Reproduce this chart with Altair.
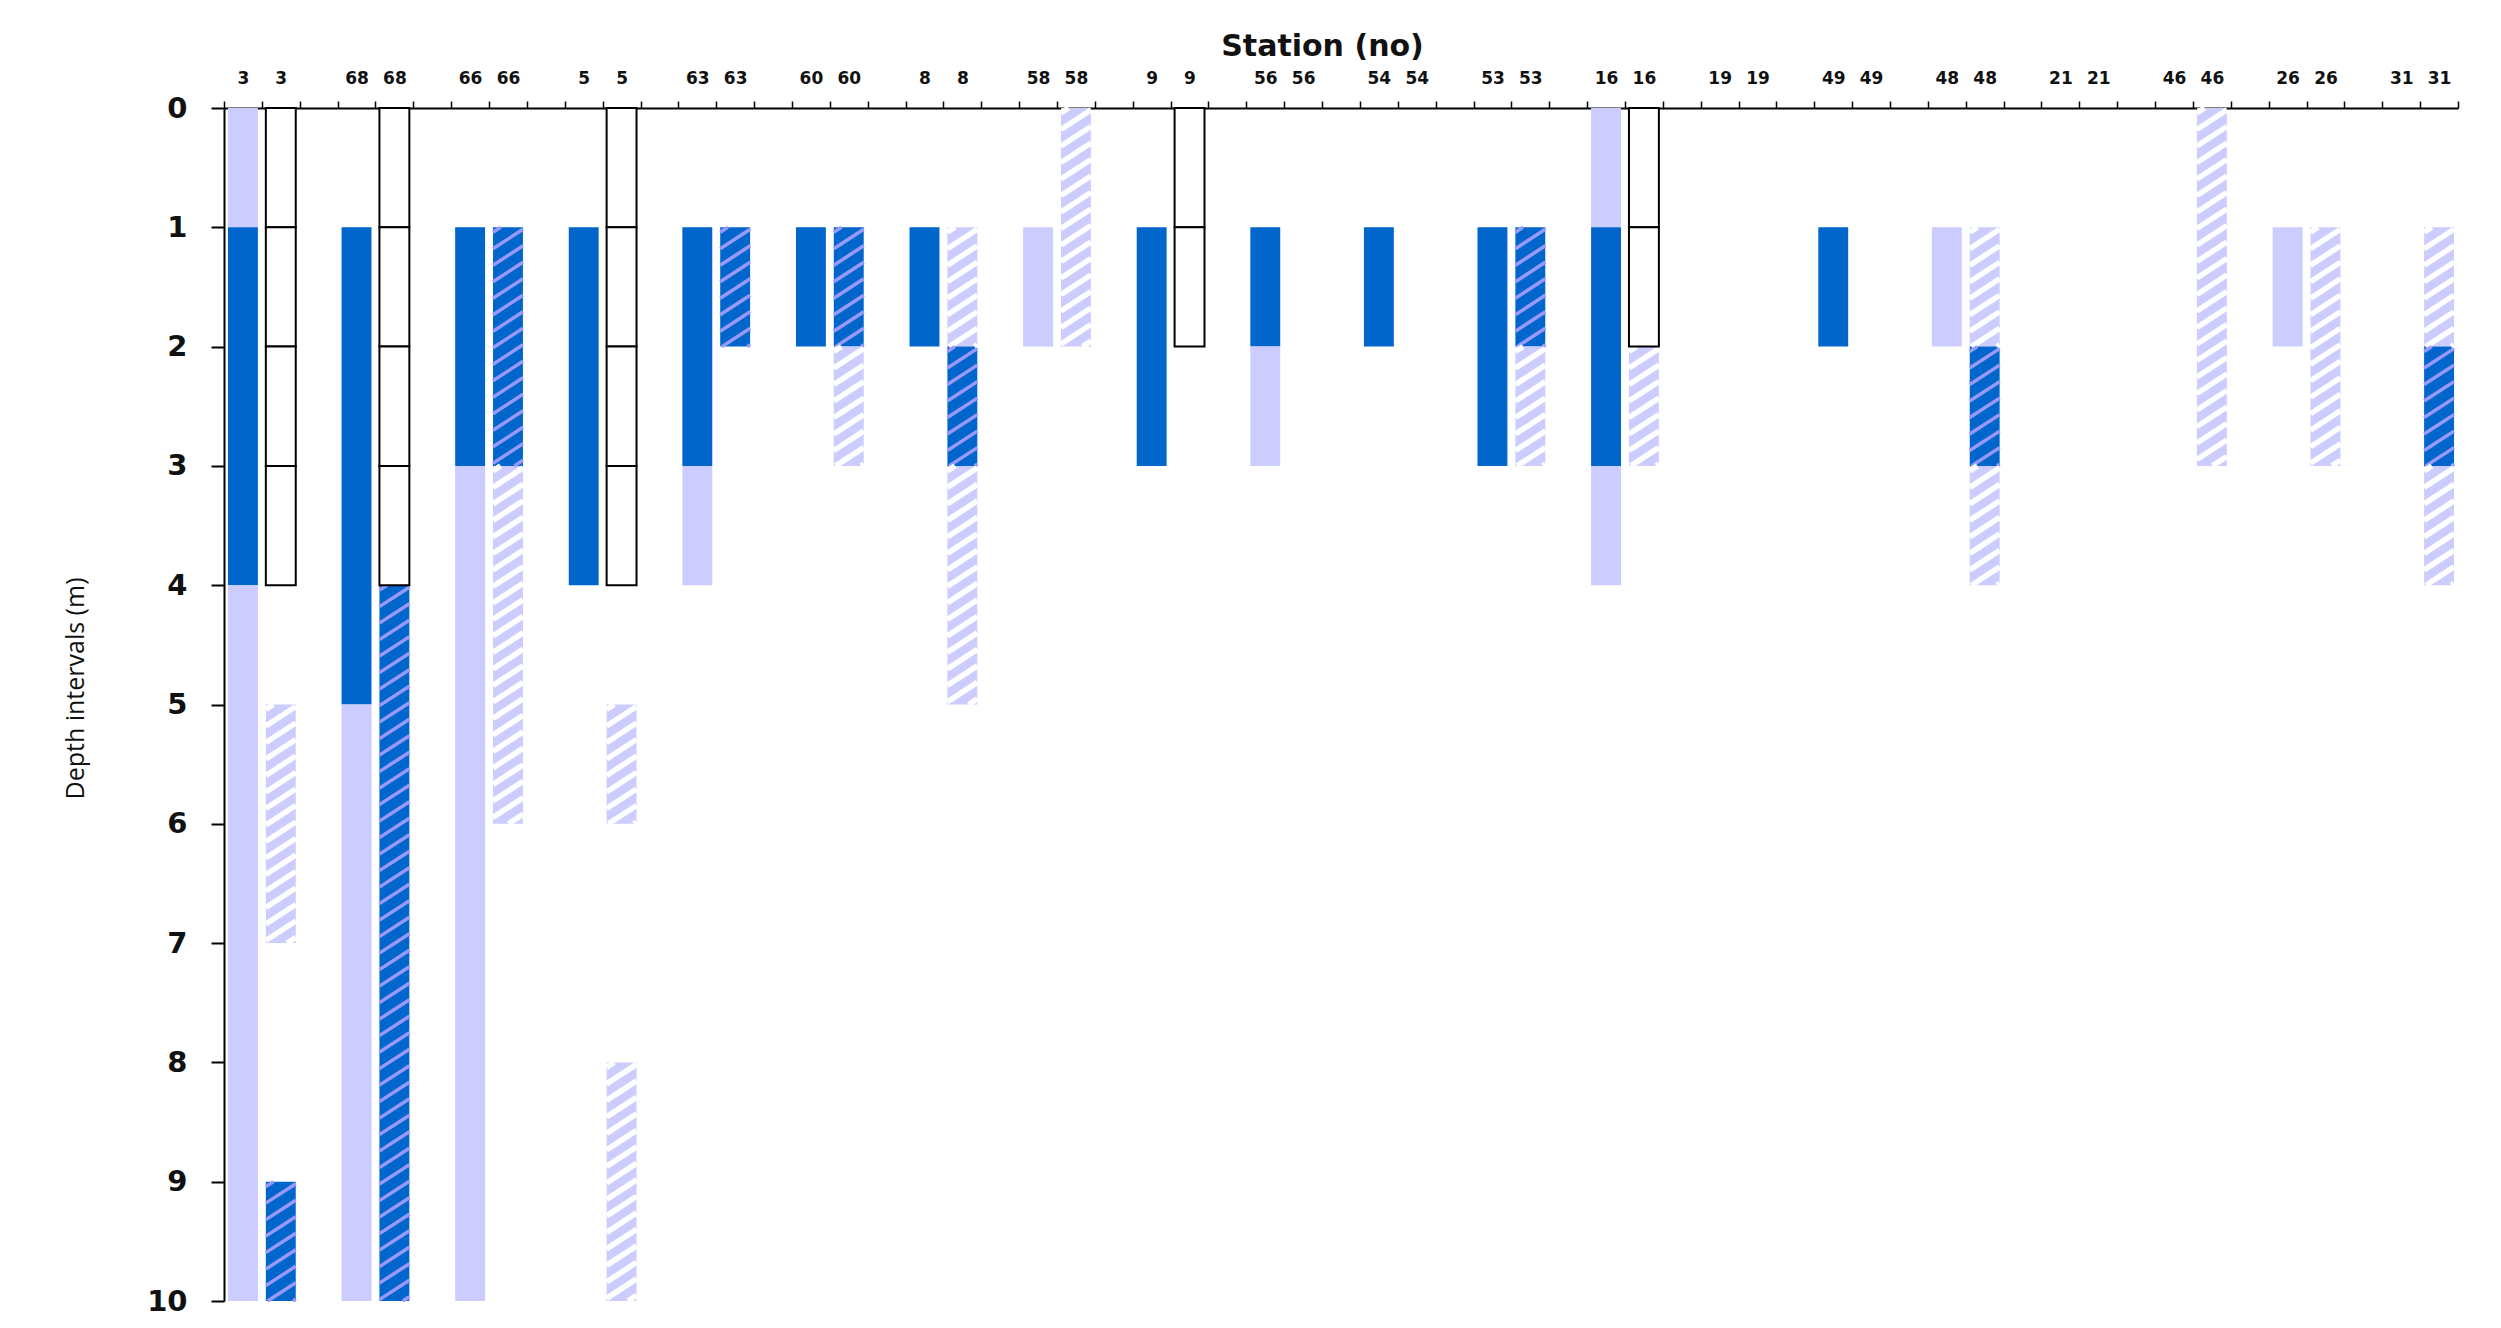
import json
import altair as alt
import pandas as pd

# ---------------- data ----------------
stations = ["3", "68", "66", "5", "63", "60", "8", "58", "9", "56",
            "54", "53", "16", "19", "49", "48", "21", "46", "26", "31"]

# one code per 1-m depth interval (0-1, 1-2, ..., 9-10)
# L = light solid, D = dark solid, h = light hatched, H = dark hatched,
# E = empty outlined box, . = nothing
left_bars = ["LDDDLLLLLL", ".DDDDLLLLL", ".DDLLLLLLL", ".DDD......", ".DDL......",
             ".D........", ".D........", ".L........", ".DD.......", ".DL.......",
             ".D........", ".DD.......", "LDDL......", "..........", ".D........",
             ".L........", "..........", "..........", ".L........", ".........."]
right_bars = ["EEEE.hh..H", "EEEEHHHHHH", ".HHhhh....", "EEEE.h..hh", ".H........",
              ".Hh.......", ".hHhh.....", "hh........", "EE........", "..........",
              "..........", ".Hh.......", "EEh.......", "..........", "..........",
              ".hHh......", "..........", "hhh.......", ".hh.......", ".hHh......"]

depth_ticks = list(range(0, 11))

style_codes = ["L", "D", "h", "H", "hs", "Hs"]
style_colors = ["#CCCCFF", "#0066CC", "#CCCCFF", "#0066CC", "#FFFFFF", "#9999FF"]

# ---------------- layout ----------------
W, H = 2234, 1193
NSLOT = 3 * len(stations) - 1
HALF = 0.395

slot_labels = []
for i in range(NSLOT):
    slot_labels.append(stations[i // 3] if i % 3 < 2 else "")

seg_rows, box_rows = [], []
for k in range(len(stations)):
    for side, codes in ((0, left_bars[k]), (1, right_bars[k])):
        slot = 3 * k + side
        d = 0
        while d < 10:
            c = codes[d]
            if c == ".":
                d += 1
                continue
            if c == "E":
                box_rows.append(dict(x0=slot - HALF, x1=slot + HALF, top=d, bot=d + 1))
                d += 1
                continue
            e = d
            while e < 10 and codes[e] == c:
                e += 1
            seg_rows.append(dict(x0=slot - HALF, x1=slot + HALF, top=d, bot=e, code=c))
            d = e

# hatch stripes ("/" direction) derived from hatched segments
sx = W / NSLOT
sy = H / 10.0
slope = 0.65
period_px = 16.5
kk = slope * sx / sy
pp = period_px / sy
hatch_rows = []
for s in seg_rows:
    if s["code"] not in ("h", "H"):
        continue
    xl, xr, a, b = s["x0"], s["x1"], s["top"], s["bot"]
    c = a + pp * 0.3
    while c < b + kk * (xr - xl):
        xs = max(xl, xl + (c - b) / kk)
        xe = min(xr, xl + (c - a) / kk)
        if xe - xs > 1e-6:
            hatch_rows.append(dict(xa=xs, xb=xe,
                                   ya=c - kk * (xs - xl), yb=c - kk * (xe - xl),
                                   code=s["code"] + "s"))
        c += pp

segs = pd.DataFrame(seg_rows)
boxes = pd.DataFrame(box_rows)
hatch = pd.DataFrame(hatch_rows)

label_expr = "datum.value % 1 != 0 ? '' : " + json.dumps(slot_labels) + "[datum.value]"
x_values = [i - 0.5 for i in range(NSLOT + 1)] + list(range(NSLOT))

xscale = alt.Scale(domain=[-0.5, NSLOT - 0.5], nice=False, zero=False)
yscale = alt.Scale(domain=[0, 10], reverse=True, nice=False, zero=False)
cscale = alt.Scale(domain=style_codes, range=style_colors)

xaxis = alt.Axis(orient="top", title="Station (no)", values=x_values,
                 labelExpr=label_expr, labelOverlap=False, labelFlush=False,
                 labelFont="DejaVu Sans", labelFontWeight="bold", labelFontSize=17,
                 labelColor="#111111", labelPadding=14, labelAngle=0,
                 tickSize=7, tickColor="black", tickWidth=1.5,
                 tickOpacity={"condition": {"test": "datum.value % 1 == 0", "value": 0}, "value": 1},
                 domainColor="black", domainWidth=2, grid=False,
                 titleFont="DejaVu Sans", titleFontWeight="bold", titleFontSize=30,
                 titleColor="#111111", titleX=1098, titleY=-62, titleBaseline="middle")
yaxis = alt.Axis(orient="left", title="Depth intervals (m)", values=depth_ticks,
                 format="d", labelFont="DejaVu Sans", labelFontWeight="bold",
                 labelFontSize=29, labelColor="#111111", labelPadding=24,
                 tickSize=13, tickColor="black", tickWidth=2,
                 domainColor="black", domainWidth=2, grid=False,
                 titleFont="Open Sans", titleFontWeight="normal", titleFontSize=25,
                 titleColor="#111111", titleX=-149, titleY=580, titleAngle=270,
                 titleBaseline="middle", titleAlign="center")

bars = alt.Chart(segs).mark_bar(strokeWidth=0).encode(
    x=alt.X("x0:Q", scale=xscale, axis=xaxis),
    x2="x1:Q",
    y=alt.Y("top:Q", scale=yscale, axis=yaxis),
    y2="bot:Q",
    color=alt.Color("code:N", scale=cscale, legend=None),
)

stripes = alt.Chart(hatch).mark_rule(strokeCap="butt").encode(
    x=alt.X("xa:Q", scale=xscale, axis=xaxis),
    x2="xb:Q",
    y=alt.Y("ya:Q", scale=yscale, axis=yaxis),
    y2="yb:Q",
    color=alt.Color("code:N", scale=cscale, legend=None),
    strokeWidth=alt.StrokeWidth("code:N", scale=alt.Scale(domain=["hs", "Hs"], range=[5.5, 3.5]),
                                legend=None),
)

empty = alt.Chart(boxes).mark_rect(fill="white", stroke="black", strokeWidth=2).encode(
    x=alt.X("x0:Q", scale=xscale, axis=xaxis),
    x2="x1:Q",
    y=alt.Y("top:Q", scale=yscale, axis=yaxis),
    y2="bot:Q",
)

chart = alt.layer(bars, stripes, empty).properties(
    width=W, height=H,
    padding={"left": 216, "top": 100, "right": 30, "bottom": 16},
    autosize=alt.AutoSizeParams(type="none"),
    background="white",
).configure_view(stroke=None)

chart.save("out.html", embed_options={"renderer": "svg", "actions": False})
